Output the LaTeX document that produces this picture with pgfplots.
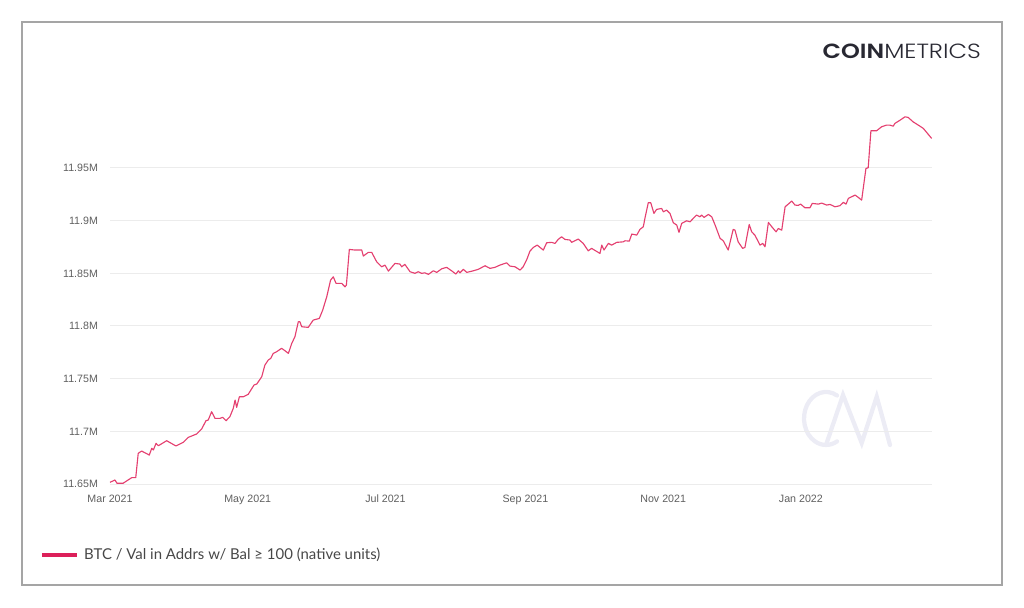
\documentclass[border=0pt]{standalone}
\usepackage{pgfplots}
\pgfplotsset{compat=1.18}
\usepackage{graphicx}
\usepackage{fontspec}
\setmainfont{Liberation Sans}
\newfontfamily\legendfont{Lato}
\newfontfamily\logobold{Poppins}[UprightFont=* SemiBold]
\IfFontExistsTF{Poppins Light}{\newfontfamily\logolight{Poppins Light}}{\newfontfamily\logolight{Poppins}}
\definecolor{cmline}{RGB}{220,32,90}
\definecolor{cmplot}{RGB}{228,64,112}
\definecolor{ticktext}{RGB}{95,95,95}
\definecolor{gridc}{RGB}{236,236,236}
\definecolor{wmark}{RGB}{236,236,245}
\definecolor{bordc}{RGB}{165,165,165}
\definecolor{logoc}{RGB}{40,40,50}
\begin{document}
\begin{tikzpicture}[x=0.75pt,y=0.75pt]
\useasboundingbox (0,0) rectangle (1024,607);
% outer frame
\draw[bordc, line width=1.5pt] (22,585) rectangle (1002,22);
% watermark
\draw[wmark, line width=3.2pt, line cap=round] (837,211.5) arc[start angle=60, end angle=300, x radius=22, y radius=26.5];
\draw[wmark, line width=3.2pt, line cap=round, line join=miter] (826.7,164) -- (843,212) -- (861.7,164) -- (876.7,210.3) -- (890,162);
% logo
\node[anchor=base east, inner sep=0pt, text=logoc] at (981,548.5)
  {\resizebox{118.5pt}{10.9pt}{\logobold COIN\logolight METRICS}};
\begin{axis}[
  at={(82.5pt,92.25pt)}, anchor=south west,
  width=616.4pt, height=276.5pt, scale only axis,
  xmin=0, xmax=364, ymin=11.65, ymax=12.0,
  axis line style={draw=none},
  major tick length=0pt,
  xtick={0,61,122,184,245,306},
  xticklabels={Mar 2021,May 2021,Jul 2021,Sep 2021,Nov 2021,Jan 2022},
  ytick={11.65,11.7,11.75,11.8,11.85,11.9,11.95},
  yticklabels={11.65M,11.7M,11.75M,11.8M,11.85M,11.9M,11.95M},
  ymajorgrids, grid style={gridc, line width=0.75pt},
  tick label style={font=\fontsize{8}{9}\selectfont, text=ticktext},
  yticklabel style={xshift=-5.5pt},
  xticklabel style={yshift=-4.5pt},
  clip=false,
  legend style={at={(rel axis cs:-0.0852,-0.1926)}, anchor=west, draw=none, fill=none,
    inner sep=0pt, outer sep=0pt, column sep=4.4pt,
    nodes={inner sep=0pt, font=\legendfont\fontsize{11.2}{13}\selectfont, text=black!72}},
  legend image code/.code={\draw[line width=2.8pt, cmline] (0pt,0pt) -- (26pt,0pt);},
]
\addplot[cmplot, line width=0.85pt, line join=round] coordinates {
(0,11.6516) (2.2,11.6538) (3.1,11.6507) (5.8,11.6507) (9.6,11.6560) (11.4,11.6560)
(12.5,11.6791) (14.0,11.6813) (17.4,11.6775) (18.5,11.6839) (19.2,11.6823) (20.4,11.6886)
(21.4,11.6863) (25.1,11.6911) (29.2,11.6861) (32.5,11.6896) (34.7,11.6943) (38.4,11.6975)
(40.6,11.7022) (42.5,11.7101) (43.5,11.7107) (45.0,11.7186) (46.5,11.7123) (48.7,11.7123)
(49.9,11.7133) (51.4,11.7101) (53.1,11.7139) (54.6,11.7218) (55.4,11.7297) (56.1,11.7228)
(57.3,11.7328) (59.0,11.7328) (61.2,11.7351) (63.8,11.7440) (65.0,11.7449) (67.2,11.7518)
(68.6,11.7629) (70.1,11.7677) (71.2,11.7693) (72.3,11.7740) (73.8,11.7756) (76.0,11.7788)
(77.5,11.7765) (79.0,11.7740) (80.5,11.7835) (81.9,11.7898) (83.4,11.8040) (84.1,11.8040)
(84.9,11.7993) (87.8,11.7987) (90.0,11.8056) (92.7,11.8072) (94.2,11.8151) (96.0,11.8278)
(97.7,11.8436) (98.9,11.8467) (100.1,11.8405) (102.6,11.8405) (104.1,11.8372) (104.7,11.8389)
(106.0,11.8727) (108.5,11.8721) (111.5,11.8721) (112.2,11.8664) (114.4,11.8699) (115.9,11.8699)
(118.1,11.8610) (120.3,11.8562) (121.8,11.8578) (123.3,11.8521) (126.2,11.8594) (128.4,11.8588)
(129.2,11.8562) (130.6,11.8585) (132.9,11.8515) (135.1,11.8500) (136.5,11.8515) (138.0,11.8500)
(139.5,11.8505) (141.0,11.8490) (143.2,11.8524) (144.7,11.8509) (146.9,11.8543) (149.1,11.8557)
(151.3,11.8524) (153.2,11.8493) (154.3,11.8524) (155.0,11.8505) (156.5,11.8538) (158.0,11.8509)
(160.9,11.8524) (163.1,11.8538) (166.1,11.8572) (168.3,11.8547) (170.5,11.8557) (172.7,11.8578)
(175.7,11.8600) (177.1,11.8569) (179.4,11.8562) (181.6,11.8531) (183.0,11.8562) (184.5,11.8626)
(186.0,11.8711) (187.5,11.8746) (189.2,11.8768) (191.9,11.8721) (193.4,11.8790) (195.6,11.8794)
(197.1,11.8784) (198.5,11.8822) (200.0,11.8847) (201.5,11.8822) (203.7,11.8816) (204.5,11.8794)
(205.9,11.8809) (207.4,11.8825) (209.6,11.8784) (211.8,11.8714) (213.3,11.8737) (217.0,11.8689)
(217.8,11.8768) (218.8,11.8721) (220.7,11.8784) (222.2,11.8768) (224.4,11.8794) (227.3,11.8799)
(228.1,11.8809) (230.0,11.8806) (231.1,11.8873) (233.3,11.8863) (234.7,11.8917) (236.2,11.8942)
(236.9,11.9021) (238.4,11.9170) (239.5,11.9170) (240.9,11.9069) (242.1,11.9107) (244.3,11.9116)
(245.1,11.9084) (246.5,11.9100) (248.0,11.9069) (249.5,11.8980) (251.0,11.8958) (252.0,11.8889)
(253.2,11.8974) (255.4,11.8999) (256.9,11.8989) (258.3,11.9021) (259.8,11.9053) (261.3,11.9037)
(262.0,11.9053) (263.1,11.9031) (265.0,11.9059) (266.5,11.9037) (268.0,11.8958) (270.2,11.8832)
(271.6,11.8809) (273.8,11.8721) (276.0,11.8917) (276.8,11.8910) (278.2,11.8799) (280.2,11.8737)
(281.2,11.8746) (283.1,11.8964) (284.2,11.8894) (285.6,11.8863) (287.9,11.8768) (289.1,11.8784)
(290.1,11.8752) (291.6,11.8983) (293.1,11.8942) (295.0,11.8894) (296.0,11.8926) (297.5,11.8910)
(299.0,11.9132) (300.4,11.9157) (301.9,11.9186) (303.4,11.9148) (304.8,11.9145) (305.9,11.9157)
(307.8,11.9122) (310.0,11.9122) (311.0,11.9164) (313.7,11.9157) (315.2,11.9167) (317.4,11.9148)
(318.9,11.9154) (321.1,11.9132) (323.3,11.9142) (324.8,11.9174) (326.0,11.9157) (327.0,11.9211)
(330.0,11.9243) (331.4,11.9221) (332.9,11.9195) (334.8,11.9496) (335.8,11.9502) (337.0,11.9853)
(339.5,11.9853) (341.7,11.9891) (343.9,11.9907) (345.4,11.9907) (346.9,11.9897) (347.6,11.9923)
(349.9,11.9954) (352.1,11.9986) (353.5,11.9980) (355.7,11.9938) (358.0,11.9907) (360.2,11.9876)
(363.9,11.9781)
};
\addlegendentry{BTC / Val in Addrs w/ Bal ≥ 100 (native units)}
\end{axis}
\end{tikzpicture}
\end{document}
